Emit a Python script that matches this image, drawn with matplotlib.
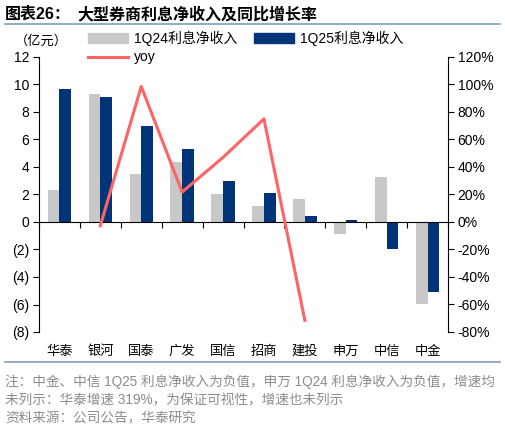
import matplotlib
matplotlib.use("Agg")
import matplotlib.pyplot as plt
import numpy as np
from matplotlib.patches import Patch
from matplotlib.lines import Line2D
from matplotlib.ticker import FuncFormatter

plt.rcParams['font.family'] = ['Liberation Sans', 'Noto Sans CJK SC']

categories = ['华泰', '银河', '国泰', '广发', '国信', '招商', '建投', '申万', '中信', '中金']
nii_1q24 = [2.3, 9.3, 3.5, 4.35, 2.03, 1.19, 1.65, -0.85, 3.25, -5.95]
nii_1q25 = [9.65, 9.08, 6.96, 5.33, 2.98, 2.08, 0.47, 0.18, -2.0, -5.1]
yoy = [np.nan, -2.7, 98.6, 21.8, 47.0, 75.0, -71.5, np.nan, np.nan, np.nan]

left_ticks = [12, 10, 8, 6, 4, 2, 0, -2, -4, -6, -8]
right_ticks = [120, 100, 80, 60, 40, 20, 0, -20, -40, -60, -80]

W, H = 505, 433
fig = plt.figure(figsize=(W / 100, H / 100), dpi=100)
ax_l, ax_r, ax_t, ax_b = 39, 448, 57, 332
ax = fig.add_axes([ax_l / W, 1 - ax_b / H, (ax_r - ax_l) / W, (ax_b - ax_t) / H])

x = np.arange(len(categories))
bw = 0.285
gray = '#C8C8C8'
navy = '#003478'
red = '#FF6464'
ax.bar(x - bw / 2, nii_1q24, bw, color=gray, zorder=2)
ax.bar(x + bw / 2, nii_1q25, bw, color=navy, zorder=2)
ax.set_xlim(-0.5, len(categories) - 0.5)
ax.set_ylim(-8, 12)
ax.set_yticks(left_ticks)
ax.yaxis.set_major_formatter(FuncFormatter(lambda v, p: f'({abs(int(v))})' if v < 0 else f'{int(v)}'))
ax.tick_params(axis='y', direction='out', length=4, width=0.8, labelsize=10, pad=3)
ax.set_xticks(x)
ax.set_xticklabels(categories, fontsize=9.5, family=['Noto Sans CJK SC'])
ax.tick_params(axis='x', length=0, pad=9)
for s in ['top', 'right', 'bottom']:
    ax.spines[s].set_visible(False)
ax.spines['left'].set_linewidth(0.8)

ax.axhline(0, color='black', lw=0.8, zorder=3)
sec = ax.secondary_xaxis(0.4)
sec.set_xticks(np.arange(-0.5, len(categories), 1.0))
sec.set_xticklabels([])
sec.tick_params(axis='x', direction='out', length=4, width=0.8)
sec.spines['bottom'].set_visible(False)

ax2 = ax.twinx()
ax2.plot(x, yoy, color=red, lw=2.2, zorder=4)
ax2.set_ylim(-80, 120)
ax2.set_yticks(right_ticks)
ax2.yaxis.set_major_formatter(FuncFormatter(lambda v, p: f'{int(v)}%'))
ax2.tick_params(axis='y', direction='out', length=4, width=0.8, labelsize=10, pad=3)
for s in ['top', 'left', 'bottom']:
    ax2.spines[s].set_visible(False)
ax2.spines['right'].set_linewidth(0.8)

handles = [Patch(color=gray), Line2D([], [], color=red, lw=2.2), Patch(color=navy)]
labels = ['1Q24利息净收入', 'yoy', '1Q25利息净收入']
fig.legend(handles, labels, loc='upper left', bbox_to_anchor=(88 / W, 1 - 31 / H), ncol=2,
           frameon=False, fontsize=10, handlelength=2.9, handletextpad=0.4, columnspacing=1.2,
           borderpad=0, labelspacing=0.3, borderaxespad=0)

fig.text(15 / W, 1 - 41 / H, '（亿元）', fontsize=9.5, va='center', ha='left', family=['Noto Sans CJK SC'])

fig.text(5 / W, 1 - 14 / H, '图表26：', fontsize=11.5, fontweight='bold', va='center', ha='left')
fig.text(77 / W, 1 - 14 / H, '大型券商利息净收入及同比增长率', fontsize=11.5, fontweight='bold', va='center', ha='left')
fig.add_artist(Line2D([5 / W, 500 / W], [1 - 24 / H, 1 - 24 / H], color='#7F9CC0', lw=1.2))
fig.add_artist(Line2D([5 / W, 500 / W], [1 - 362 / H, 1 - 362 / H], color='#7F9CC0', lw=1.2))

note_c = '#8C8C8C'
fig.text(5 / W, 1 - 382 / H, '注：中金、中信 1Q25 利息净收入为负值，申万 1Q24 利息净收入为负值，增速均',
         fontsize=9.8, color=note_c, va='center', ha='left')
fig.text(5 / W, 1 - 400 / H, '未列示：华泰增速 319%，为保证可视性，增速也未列示',
         fontsize=9.8, color=note_c, va='center', ha='left')
fig.text(5 / W, 1 - 418 / H, '资料来源：公司公告，华泰研究',
         fontsize=9.8, color=note_c, va='center', ha='left')

fig.savefig('out.png', dpi=100)
